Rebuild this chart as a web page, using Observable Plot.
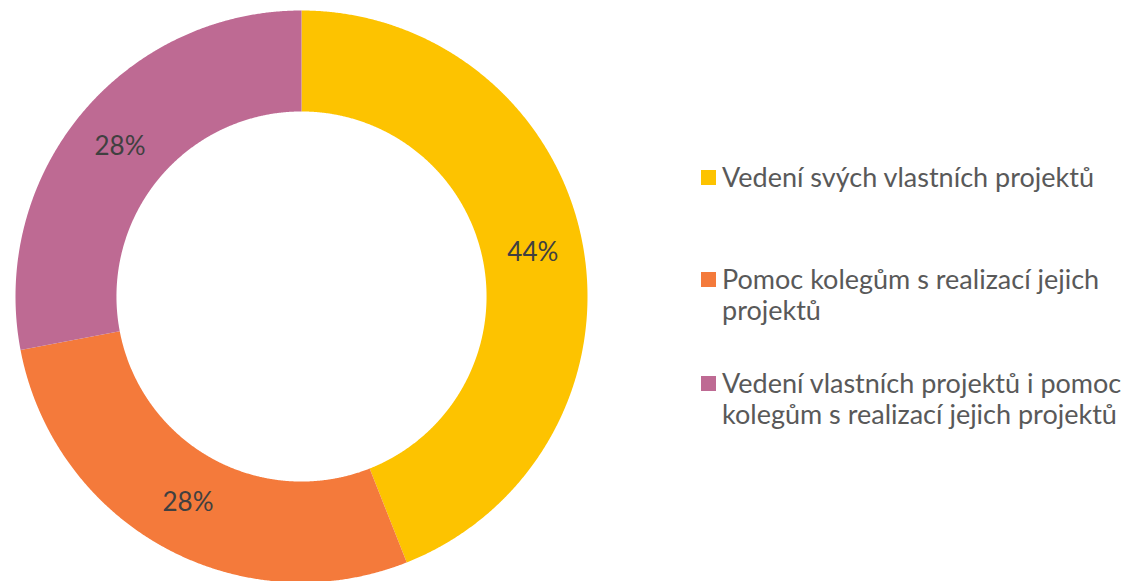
<!DOCTYPE html>
<html><head><meta charset="utf-8">
<script src="https://cdn.jsdelivr.net/npm/d3@7"></script>
<script src="https://cdn.jsdelivr.net/npm/@observablehq/plot@0.6"></script>
<style>
body{margin:0;background:#fff;}
#wrap{position:relative;width:1127px;height:581px;overflow:hidden;font-family:Lato, sans-serif;}
#wrap svg{position:absolute;left:0;top:0}
.item{position:absolute;left:701px;display:flex;align-items:flex-start;white-space:pre;font-size:27px;line-height:31px;color:#595959}
.sw{width:15px;height:15px;margin-top:9px;margin-right:6px;flex:none}
</style></head><body><div id="wrap"></div>
<script>
const categories = ["Vedení svých vlastních projektů", "Pomoc kolegům s realizací jejich projektů", "Vedení vlastních projektů i pomoc kolegům s realizací jejich projektů"];
const legendLines = [["Vedení svých vlastních projektů"], ["Pomoc kolegům s realizací jejich", "projektů"], ["Vedení vlastních projektů i pomoc", "kolegům s realizací jejich projektů"]];
const values = [44, 28, 28];
const labels = ["44%", "28%", "28%"];
const colors = ["#FDC300", "#F47A3B", "#BE6A93"];

const rOuter = 1, rInner = 0.647, rLabel = (rOuter + rInner) / 2;
const arcs = d3.pie().sort(null).value(d => d)(values);
const ring = [];
arcs.forEach((a, i) => {
  const n = Math.max(2, Math.ceil((a.endAngle - a.startAngle) / (Math.PI / 720)));
  for (let k = 0; k <= n; k++) {
    const t = a.startAngle + (a.endAngle - a.startAngle) * k / n;
    ring.push({cat: categories[i], x: rOuter * Math.sin(t), y: rOuter * Math.cos(t)});
  }
  for (let k = n; k >= 0; k--) {
    const t = a.startAngle + (a.endAngle - a.startAngle) * k / n;
    ring.push({cat: categories[i], x: rInner * Math.sin(t), y: rInner * Math.cos(t)});
  }
});
const labelData = arcs.map((a, i) => {
  const m = (a.startAngle + a.endAngle) / 2;
  return {label: labels[i], x: rLabel * Math.sin(m), y: rLabel * Math.cos(m)};
});

const chart = Plot.plot({
  width: 1127, height: 581,
  style: {fontFamily: "Lato, sans-serif", background: "transparent"},
  x: {domain: [-1, 1], range: [15, 587], axis: null},
  y: {domain: [-1, 1], range: [582, 10], axis: null},
  color: {domain: categories, range: colors},
  marks: [
    Plot.line(ring, {x: "x", y: "y", z: "cat", fill: "cat", stroke: "none"}),
    Plot.text(labelData, {x: "x", y: "y", text: "label", fontSize: 26, fill: "#404040"})
  ]
});
const wrap = document.getElementById("wrap");
wrap.appendChild(chart);
const tops = [161, 263, 367];
legendLines.forEach((lines, i) => {
  const item = document.createElement("div");
  item.className = "item";
  item.style.top = tops[i] + "px";
  const sw = document.createElement("div");
  sw.className = "sw";
  sw.style.background = chart.scale("color").apply(categories[i]);
  const tx = document.createElement("div");
  tx.textContent = lines.join("\n");
  item.appendChild(sw); item.appendChild(tx);
  wrap.appendChild(item);
});
</script></body></html>
